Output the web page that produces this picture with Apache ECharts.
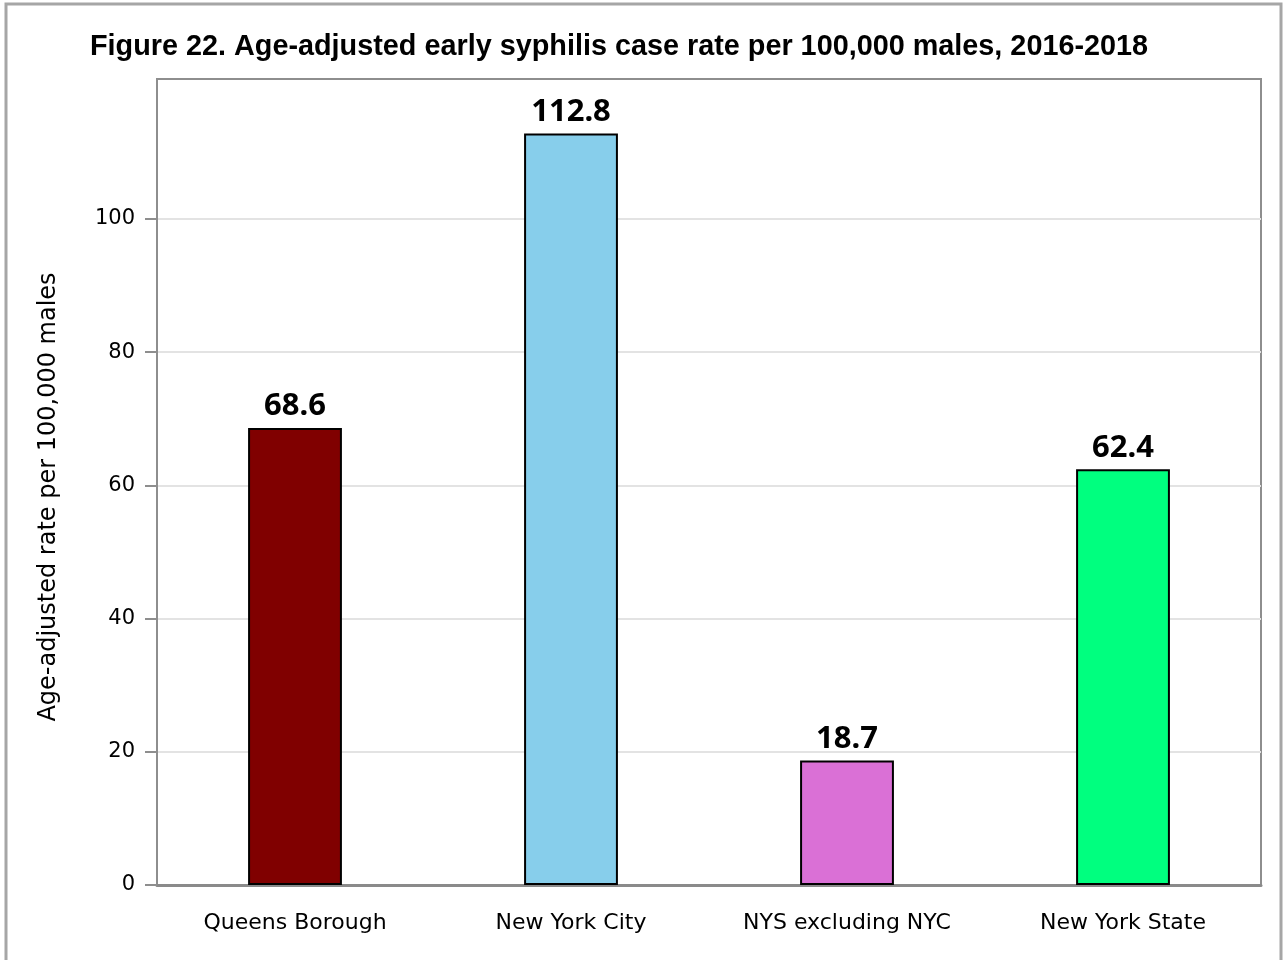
<!DOCTYPE html>
<html>
<head>
<meta charset="utf-8">
<script src="https://cdn.jsdelivr.net/npm/echarts@6/dist/echarts.min.js"></script>
<style>
  html, body { margin: 0; padding: 0; background: #fff; }
  #chart { width: 1284px; height: 960px; }
</style>
</head>
<body>
<div id="chart"></div>
<script>
// 数据
const categories = ['Queens Borough', 'New York City', 'NYS excluding NYC', 'New York State'];
const rates = [68.6, 112.8, 18.7, 62.4];
const barColors = ['#800000', '#87ceeb', '#da70d6', '#00ff7f'];
const yTicks = [0, 20, 40, 60, 80, 100];

const chart = echarts.init(document.getElementById('chart'));

chart.setOption({
  animation: false,
  backgroundColor: '#fff',
  title: {
    text: 'Figure 22. Age-adjusted early syphilis case rate per 100,000 males, 2016-2018',
    left: 85,
    top: 28,
    textStyle: {
      fontFamily: 'Liberation Sans',
      fontWeight: 'bold',
      fontSize: 28.8,
      color: '#000'
    }
  },
  // 外框
  graphic: [{
    type: 'rect',
    shape: { x: 6, y: 4, width: 1275, height: 1000 },
    style: { fill: 'none', stroke: '#a6a6a6', lineWidth: 3 },
    silent: true
  }],
  grid: {
    left: 157,
    right: 23,
    top: 79,
    bottom: 75,
    show: true,
    borderColor: '#8e8e8e',
    borderWidth: 2
  },
  xAxis: {
    type: 'category',
    data: categories,
    axisLine: { lineStyle: { color: '#8a8a8a', width: 3 } },
    axisTick: { alignWithLabel: true, length: 12, lineStyle: { color: '#8e8e8e', width: 2 } },
    axisLabel: {
      margin: 27,
      fontFamily: 'DejaVu Sans',
      fontSize: 22,
      color: '#000'
    }
  },
  yAxis: {
    type: 'value',
    min: 0,
    max: 121,
    interval: 20,
    name: 'Age-adjusted rate per 100,000 males',
    nameLocation: 'middle',
    nameGap: 96,
    nameTextStyle: { fontFamily: 'DejaVu Sans', fontSize: 24, color: '#000', padding: [0, 30, 0, 0] },
    axisLine: { show: true, lineStyle: { color: '#8e8e8e', width: 2 } },
    axisTick: { show: true, length: 12, customValues: yTicks, lineStyle: { color: '#8e8e8e', width: 2 } },
    axisLabel: {
      customValues: yTicks,
      margin: 22,
      fontFamily: 'DejaVu Sans',
      fontSize: 21,
      color: '#000'
    },
    splitLine: { show: true, lineStyle: { color: '#e3e3e3', width: 2 } }
  },
  series: [{
    type: 'bar',
    data: rates.map((v, i) => ({ value: v, itemStyle: { color: barColors[i] } })),
    barWidth: '34%',
    itemStyle: { borderColor: '#000', borderWidth: 2 },
    label: {
      show: true,
      position: 'top',
      distance: 6,
      fontFamily: 'Noto Sans',
      fontWeight: 'bold',
      fontSize: 31,
      color: '#000',
      formatter: p => p.value.toFixed(1)
    }
  }]
});
</script>
</body>
</html>
